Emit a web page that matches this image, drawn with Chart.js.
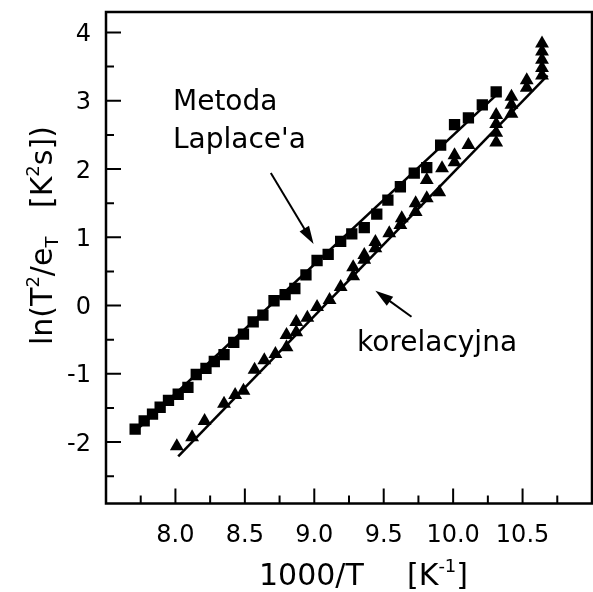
<!DOCTYPE html>
<html lang="pl">
<head>
<meta charset="UTF-8">
<title>ln(T2/eT) w funkcji 1000/T</title>
<script src="https://cdn.jsdelivr.net/npm/chart.js"></script>
<style>
  html, body { margin: 0; padding: 0; overflow: hidden; background: #fff; }
</style>
</head>
<body>
<canvas id="arrhenius" width="600" height="592"></canvas>
<script>
// Metoda Laplace'a (kwadraty)
const laplaceX = [7.71, 7.775, 7.835, 7.89, 7.95, 8.02, 8.09, 8.15, 8.22, 8.28, 8.35, 8.42, 8.49,
  8.56, 8.63, 8.71, 8.79, 8.86, 8.94, 9.02, 9.10, 9.19, 9.27, 9.36, 9.45, 9.53, 9.62, 9.72,
  9.81, 9.91, 10.01, 10.11, 10.21, 10.31];
const laplaceY = [-1.81, -1.69, -1.59, -1.49, -1.39, -1.30, -1.20, -1.01, -0.92, -0.82, -0.72, -0.54, -0.42,
  -0.24, -0.14, 0.07, 0.16, 0.25, 0.45, 0.66, 0.75, 0.94, 1.05, 1.14, 1.34, 1.545, 1.74, 1.94,
  2.02, 2.35, 2.65, 2.75, 2.94, 3.13];

// metoda korelacyjna (trojkaty)
const korelX = [8.01, 8.12, 8.21, 8.35, 8.43, 8.49, 8.57, 8.64, 8.72, 8.80, 8.80, 8.87, 8.87, 8.95,
  9.02, 9.11, 9.19, 9.28, 9.28, 9.36, 9.36, 9.44, 9.44, 9.54, 9.62, 9.63, 9.73, 9.73, 9.81, 9.81,
  9.90, 9.92, 10.01, 10.01, 10.11, 10.31, 10.31, 10.31, 10.31, 10.42, 10.42, 10.42, 10.53, 10.53,
  10.64, 10.64, 10.64, 10.64, 10.64];
const korelY = [-2.06, -1.93, -1.69, -1.44, -1.31, -1.25, -0.94, -0.80, -0.71, -0.61, -0.43, -0.39, -0.24, -0.18,
  -0.02, 0.08, 0.27, 0.43, 0.56, 0.67, 0.74, 0.84, 0.93, 1.06, 1.18, 1.28, 1.37, 1.50, 1.57, 1.84,
  1.66, 2.01, 2.10, 2.20, 2.35, 2.39, 2.53, 2.66, 2.79, 2.81, 2.94, 3.06, 3.19, 3.30,
  3.37, 3.48, 3.60, 3.72, 3.84];

// proste dopasowania (punkty koncowe)
const laplaceFitX = [7.70, 10.32];
const laplaceFitY = [-1.86, 3.10];
const korelFitX = [8.02, 10.68];
const korelFitY = [-2.21, 3.37];

const xTicks = [8.0, 8.5, 9.0, 9.5, 10.0, 10.5];
const xMinor = [7.75, 8.25, 8.75, 9.25, 9.75, 10.25, 10.75];
const yTicks = [-2, -1, 0, 1, 2, 3, 4];
const yMinor = [-2.5, -1.5, -0.5, 0.5, 1.5, 2.5, 3.5];

const FONT = 'DejaVu Sans';
const pts = (xs, ys) => xs.map((x, i) => ({ x: x, y: ys[i] }));

// ramka wykresu z podzialka skierowana do srodka i opisami podzialki
const framePlugin = {
  id: 'frame',
  afterDatasetsDraw(chart) {
    const { ctx, chartArea: a, scales: { x, y } } = chart;
    ctx.save();
    ctx.strokeStyle = '#000';
    ctx.lineWidth = 2.5;
    ctx.strokeRect(a.left, a.top, a.right - a.left, a.bottom - a.top);
    ctx.lineWidth = 2;
    ctx.beginPath();
    xTicks.forEach(v => { const p = x.getPixelForValue(v); ctx.moveTo(p, a.bottom); ctx.lineTo(p, a.bottom - 15); });
    xMinor.forEach(v => { const p = x.getPixelForValue(v); ctx.moveTo(p, a.bottom); ctx.lineTo(p, a.bottom - 8); });
    yTicks.forEach(v => { const p = y.getPixelForValue(v); ctx.moveTo(a.left, p); ctx.lineTo(a.left + 15, p); });
    yMinor.forEach(v => { const p = y.getPixelForValue(v); ctx.moveTo(a.left, p); ctx.lineTo(a.left + 8, p); });
    ctx.stroke();

    ctx.fillStyle = '#000';
    ctx.font = '24px "' + FONT + '"';
    ctx.textBaseline = 'alphabetic';
    ctx.textAlign = 'center';
    x.ticks.forEach(t => ctx.fillText(t.value.toFixed(1), x.getPixelForValue(t.value), a.bottom + 38));
    ctx.textAlign = 'right';
    y.ticks.forEach(t => ctx.fillText(String(t.value), a.left - 15, y.getPixelForValue(t.value) + 8.5));
    ctx.restore();
  }
};

function arrow(ctx, x0, y0, x1, y1) {
  const ang = Math.atan2(y1 - y0, x1 - x0);
  const len = 18, half = 5.5;
  ctx.beginPath();
  ctx.moveTo(x0, y0);
  ctx.lineTo(x1 - Math.cos(ang) * len * 0.8, y1 - Math.sin(ang) * len * 0.8);
  ctx.stroke();
  ctx.beginPath();
  ctx.moveTo(x1, y1);
  ctx.lineTo(x1 - Math.cos(ang) * len - Math.sin(ang) * half, y1 - Math.sin(ang) * len + Math.cos(ang) * half);
  ctx.lineTo(x1 - Math.cos(ang) * len + Math.sin(ang) * half, y1 - Math.sin(ang) * len - Math.cos(ang) * half);
  ctx.closePath();
  ctx.fill();
}

// kawalki tekstu: [tekst, rozmiar, przesuniecie pionowe]
function drawPieces(ctx, pieces, x, y) {
  let cx = x;
  pieces.forEach(([t, size, dy]) => {
    ctx.font = size + 'px "' + FONT + '"';
    ctx.fillText(t, cx, y + dy);
    cx += ctx.measureText(t).width;
  });
}

const labelsPlugin = {
  id: 'labels',
  afterDraw(chart) {
    const { ctx, scales: { x, y } } = chart;
    ctx.save();
    ctx.fillStyle = '#000';
    ctx.strokeStyle = '#000';
    ctx.lineWidth = 2;
    ctx.textBaseline = 'alphabetic';
    ctx.textAlign = 'left';

    ctx.font = '28px "' + FONT + '"';
    ctx.fillText('Metoda', 173, 110);
    ctx.fillText("Laplace'a", 173, 148);
    ctx.fillText('korelacyjna', 357, 351);

    arrow(ctx, x.getPixelForValue(8.687), y.getPixelForValue(1.94),
      x.getPixelForValue(8.995), y.getPixelForValue(0.90));
    arrow(ctx, x.getPixelForValue(9.70), y.getPixelForValue(-0.165),
      x.getPixelForValue(9.44), y.getPixelForValue(0.217));

    // opis osi X
    drawPieces(ctx, [['1000/T', 30, 0]], 259, 585);
    drawPieces(ctx, [['[K', 30, 0], ['-1', 18, -13], [']', 30, 0]], 407, 585);

    // opis osi Y (obrocony)
    ctx.translate(52, 345);
    ctx.rotate(-Math.PI / 2);
    drawPieces(ctx, [['ln(T', 30, 0], ['2', 18, -13], ['/e', 30, 0], ['T', 18, 6],
      ['   [K', 30, 0], ['2', 18, -13], ['s])', 30, 0]], 0, 0);
    ctx.restore();
  }
};

new Chart(document.getElementById('arrhenius'), {
  type: 'scatter',
  data: {
    datasets: [
      { label: 'Laplace fit', type: 'line', data: pts(laplaceFitX, laplaceFitY),
        borderColor: '#000', borderWidth: 2.5, pointRadius: 0, fill: false },
      { label: 'korelacyjna fit', type: 'line', data: pts(korelFitX, korelFitY),
        borderColor: '#000', borderWidth: 2.5, pointRadius: 0, fill: false },
      { label: "Metoda Laplace'a", data: pts(laplaceX, laplaceY),
        pointStyle: 'rect', pointRadius: 8, backgroundColor: '#000', borderColor: '#000', borderWidth: 0 },
      { label: 'korelacyjna', data: pts(korelX, korelY),
        pointStyle: 'triangle', pointRadius: 8, backgroundColor: '#000', borderColor: '#000', borderWidth: 0 }
    ]
  },
  options: {
    responsive: false,
    animation: false,
    devicePixelRatio: 1,
    layout: { padding: { top: 12, right: 3, left: 0, bottom: 0 } },
    plugins: { legend: { display: false }, tooltip: { enabled: false } },
    scales: {
      x: {
        type: 'linear', min: 7.5, max: 11,
        afterBuildTicks: s => { s.ticks = xTicks.map(v => ({ value: v })); },
        afterFit: s => { s.height = 88.5; },
        grid: { display: false, drawTicks: false },
        border: { display: false },
        ticks: { display: false }
      },
      y: {
        type: 'linear', min: -2.9, max: 4.3,
        afterBuildTicks: s => { s.ticks = yTicks.map(v => ({ value: v })); },
        afterFit: s => { s.width = 106; },
        grid: { display: false, drawTicks: false },
        border: { display: false },
        ticks: { display: false }
      }
    }
  },
  plugins: [framePlugin, labelsPlugin]
});
</script>
</body>
</html>
